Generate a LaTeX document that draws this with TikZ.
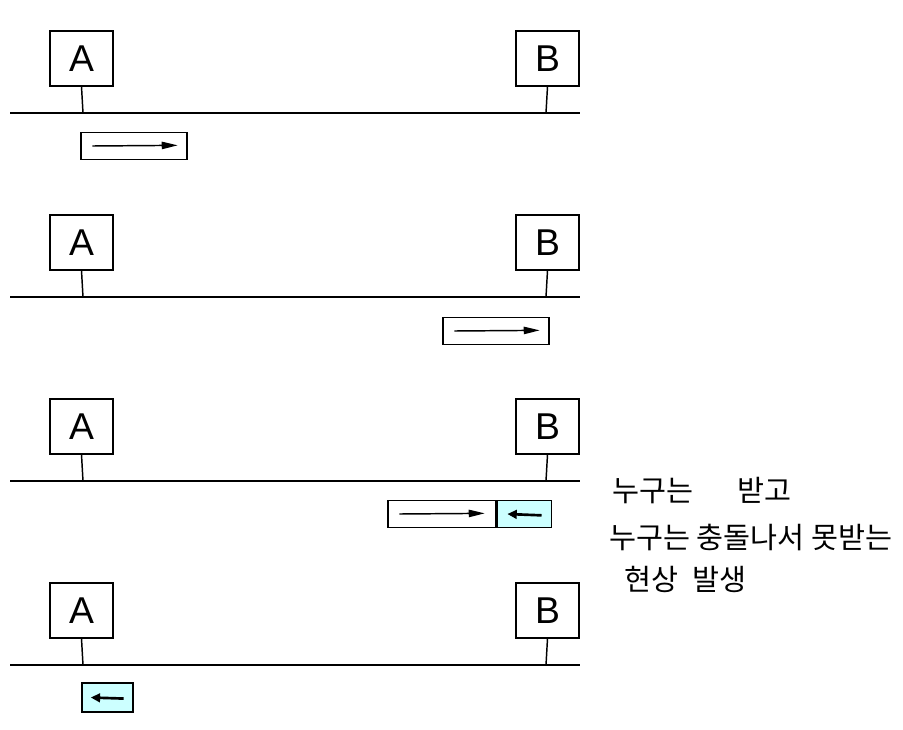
\documentclass[tikz,border=0pt]{standalone}
\usepackage{fontspec}
\setmainfont{Liberation Sans}
\newfontfamily\kofont{Noto Sans CJK KR}
\usetikzlibrary{arrows.meta}
\definecolor{pktcyan}{RGB}{204,255,255}

\begin{document}
\begin{tikzpicture}[x=0.75pt, y=-0.75pt, >={Triangle[length=12pt,width=5.5pt]}, line width=1.1pt,
  station/.style={draw, minimum width=47pt, minimum height=41pt, inner sep=0pt, font=\fontsize{28}{28}\selectfont},
  packet/.style={draw, minimum height=20.5pt, inner sep=0pt},
  jam/.style={line width=2pt, -{Triangle[length=7pt,width=6.5pt]}},
  note/.style={anchor=west, font=\kofont\fontsize{22}{24}\selectfont}]
\useasboundingbox (0,0) rectangle (903,729);
% four snapshots of the same bus
\foreach \r/\off in {1/0, 2/184, 3/368, 4/552} {
  \node[station] (A\r) at (81.5, 58.5+\off) {A};
  \node[station] (B\r) at (547.5, 58.5+\off) {B};
  \coordinate (l\r) at (10, 113+\off);
  \coordinate (r\r) at (580, 113+\off);
  \coordinate (a\r) at (83, 113+\off);
  \coordinate (b\r) at (546, 113+\off);
  \draw (l\r) -- (r\r);
  \draw (A\r.south) -- (a\r);
  \draw (B\r.south) -- (b\r);
}
% frame leaves A
\node[packet, minimum width=79.5pt] (p1) at (134, 146) {};
\draw[->] ([xshift=9pt]p1.west) -- ([xshift=-7.5pt,yshift=0.5pt]p1.east);
% frame reaches B
\node[packet, minimum width=79.5pt] (p2) at (496, 331) {};
\draw[->] ([xshift=9pt]p2.west) -- ([xshift=-7.5pt,yshift=0.5pt]p2.east);
% collision at B
\node[packet, minimum width=81pt] (p3) at (442, 514) {};
\node[packet, minimum width=40.5pt, fill=pktcyan, anchor=west] (q3) at (p3.east) {};
\draw[->] ([xshift=9pt]p3.west) -- ([xshift=-9pt,yshift=0.5pt]p3.east);
\draw[jam] ([xshift=-8pt,yshift=-1pt]q3.east) -- ([xshift=8pt]q3.west);
% jam frame back at A
\node[packet, minimum width=38pt, minimum height=21.5pt, fill=pktcyan] (q4) at (107.5, 697.5) {};
\draw[jam] ([xshift=-7.5pt,yshift=-0.8pt]q4.east) -- ([xshift=7pt]q4.west);
% remark
\node[note] (t1) at (607, 491) {누구는\quad\enspace 받고};
\node[note] (t2) at (604, 537) {누구는 충돌나서 못받는};
\node[note] (t3) at (619, 579) {현상\enspace 발생};
\end{tikzpicture}
\end{document}
